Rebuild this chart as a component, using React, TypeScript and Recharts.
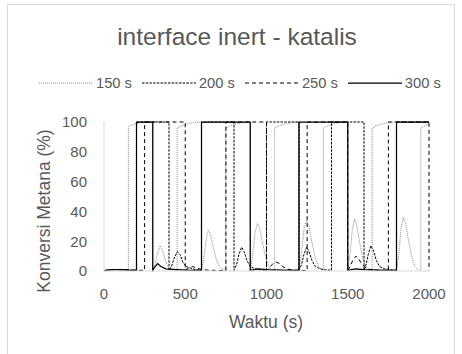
import { LineChart, Line, XAxis, YAxis } from "recharts";

const X_TICKS = [0, 500, 1000, 1500, 2000];
const Y_TICKS = [0, 20, 40, 60, 80, 100];

// waktu (s) / konversi metana (%) per switching time
const T150 = [0, 40, 80, 120, 150, 150, 180, 220, 260, 300, 300, 315, 330, 345, 360, 375, 390, 410, 430, 450, 450, 480, 520, 560, 600, 600, 615, 630, 642, 655, 670, 690, 710, 730, 750, 750, 780, 820, 860, 900, 900, 915, 930, 944, 958, 975, 995, 1015, 1035, 1050, 1050, 1080, 1120, 1160, 1200, 1200, 1215, 1232, 1247, 1262, 1280, 1300, 1320, 1340, 1350, 1350, 1380, 1420, 1460, 1500, 1500, 1515, 1528, 1541, 1555, 1572, 1592, 1612, 1632, 1650, 1650, 1680, 1720, 1760, 1800, 1800, 1815, 1828, 1842, 1856, 1873, 1893, 1913, 1933, 1950, 1950, 1975, 2000];
const V150 = [0.3, 0.8, 1.0, 0.6, 0.4, 97, 98.5, 99.5, 100, 100, 0.5, 5, 12, 17, 14, 8, 3.5, 1, 0.4, 0.3, 96, 97.5, 99, 99.8, 100, 0.5, 9, 22, 27.5, 25, 17, 8, 3, 1, 0.4, 96, 97.5, 99, 99.8, 100, 0.5, 11, 26, 32, 29, 19, 9, 3, 1, 0.4, 96, 97.5, 99, 99.8, 100, 0.5, 12, 29, 34, 30, 19, 9, 3, 1, 0.4, 96, 97.5, 99, 99.8, 100, 0.5, 12, 28, 35, 31, 20, 9, 3, 1, 0.4, 96, 97.5, 99, 99.8, 100, 0.5, 12, 29, 36, 32, 21, 10, 3, 1, 0.4, 96, 97.5, 98.5];

const T200 = [0, 50, 100, 150, 200, 200, 400, 400, 415, 430, 451, 468, 485, 505, 530, 560, 600, 600, 800, 800, 815, 830, 847, 862, 880, 900, 930, 960, 1000, 1000, 1200, 1200, 1215, 1230, 1247, 1262, 1280, 1300, 1330, 1360, 1400, 1400, 1600, 1600, 1612, 1626, 1642, 1658, 1676, 1696, 1726, 1760, 1800, 1800, 2000];
const V200 = [0.3, 0.9, 1.1, 0.7, 0.5, 100, 100, 0.5, 3, 8, 13, 11, 6, 3, 2, 1, 0.5, 100, 100, 0.5, 4, 11, 16, 13, 7, 3, 1.5, 0.8, 0.5, 100, 100, 0.5, 4, 11, 16, 13, 7, 3, 1.5, 0.8, 0.5, 100, 100, 0.5, 4, 11, 17, 14, 7, 3, 1.5, 0.8, 0.5, 100, 100];

const T250 = [0, 60, 120, 200, 250, 250, 500, 500, 520, 545, 570, 600, 650, 750, 750, 1000, 1000, 1020, 1040, 1060, 1080, 1100, 1130, 1170, 1250, 1250, 1500, 1500, 1515, 1530, 1551, 1568, 1585, 1605, 1630, 1680, 1750, 1750, 2000, 2000];
const V250 = [0.3, 1, 0.8, 0.5, 0.4, 100, 100, 0.5, 2, 3, 2, 1, 0.5, 0.3, 100, 100, 0.5, 2.5, 5, 6, 5, 3, 1.2, 0.6, 0.3, 100, 100, 0.5, 3, 7, 10, 8, 5, 2.5, 1, 0.5, 0.3, 100, 100, 0.5];

const T300 = [0, 50, 100, 150, 200, 200, 300, 300, 315, 330, 350, 380, 450, 520, 600, 600, 900, 900, 950, 1000, 1100, 1200, 1200, 1500, 1500, 1550, 1600, 1700, 1800, 1800, 2000];
const V300 = [0.3, 1, 1, 0.6, 0.4, 100, 100, 0.5, 3, 5, 3, 1.5, 1, 0.6, 0.4, 100, 100, 0.5, 1.5, 1, 0.6, 0.4, 100, 100, 0.5, 1.5, 1, 0.6, 0.4, 100, 100];

const toPoints = (t: number[], v: number[]) => t.map((x, i) => ({ t: x, v: v[i] }));

const SERIES = [
  { name: "150 s", data: toPoints(T150, V150), color: "#8c8c8c", dash: "1 1", width: 1 },
  { name: "200 s", data: toPoints(T200, V200), color: "#000000", dash: "2.5 1.2", width: 1 },
  { name: "250 s", data: toPoints(T250, V250), color: "#000000", dash: "4 3", width: 1 },
  { name: "300 s", data: toPoints(T300, V300), color: "#000000", dash: undefined, width: 1.25 },
];

const FONT = "'Liberation Sans', Arial, sans-serif";
const TEXT = "#595959";

export default function App() {
  return (
    <div style={{ position: "absolute", left: 0, top: 0, width: 462, height: 354, background: "#fff", fontFamily: FONT, overflow: "hidden" }}>
      <div style={{ position: "absolute", left: 7, top: 4, width: 448, height: 360, border: "1px solid #d9d9d9", boxSizing: "border-box" }} />
      <div style={{ position: "absolute", left: 0, width: 474, top: 22, textAlign: "center", fontSize: 24.5, color: TEXT, lineHeight: "30px" }}>
        interface inert - katalis
      </div>
      <div style={{ position: "absolute", left: 39, top: 74, height: 18, display: "flex", alignItems: "center", fontSize: 14.7, color: TEXT }}>
        {SERIES.map((s, i) => (
          <div key={s.name} style={{ display: "flex", alignItems: "center", marginLeft: i === 0 ? 0 : 10 }}>
            <svg width={54} height={10}>
              <line x1={0} y1={5} x2={54} y2={5} stroke={s.color} strokeWidth={s.width} strokeDasharray={s.dash} />
            </svg>
            <span style={{ marginLeft: 3 }}>{s.name}</span>
          </div>
        ))}
      </div>
      <div style={{ position: "absolute", left: 44, top: 211, transform: "translate(-50%, -50%) rotate(-90deg)", whiteSpace: "nowrap", fontSize: 17.5, color: TEXT }}>
        Konversi Metana (%)
      </div>
      <div style={{ position: "absolute", left: 266, top: 322, transform: "translate(-50%, -50%)", whiteSpace: "nowrap", fontSize: 17.5, color: TEXT }}>
        Waktu (s)
      </div>
      <div style={{ position: "absolute", left: 0, top: 0 }}>
        <LineChart width={462} height={354} margin={{ top: 122, right: 33, bottom: 53, left: 64 }}>
          <XAxis
            dataKey="t"
            type="number"
            domain={[0, 2000]}
            ticks={X_TICKS}
            height={30}
            tickLine={false}
            tickMargin={11}
            axisLine={{ stroke: "#d9d9d9" }}
            tick={{ fill: TEXT, fontSize: 15, fontFamily: FONT }}
            allowDuplicatedCategory={false}
          />
          <YAxis
            type="number"
            domain={[0, 100]}
            ticks={Y_TICKS}
            width={40}
            tickLine={false}
            tickMargin={11}
            axisLine={{ stroke: "#d9d9d9" }}
            tick={{ fill: TEXT, fontSize: 15, fontFamily: FONT }}
          />
          {SERIES.map((s) => (
            <Line
              key={s.name}
              data={s.data}
              dataKey="v"
              type="linear"
              stroke={s.color}
              strokeWidth={s.width}
              strokeDasharray={s.dash}
              dot={false}
              activeDot={false}
              isAnimationActive={false}
            />
          ))}
        </LineChart>
      </div>
    </div>
  );
}
